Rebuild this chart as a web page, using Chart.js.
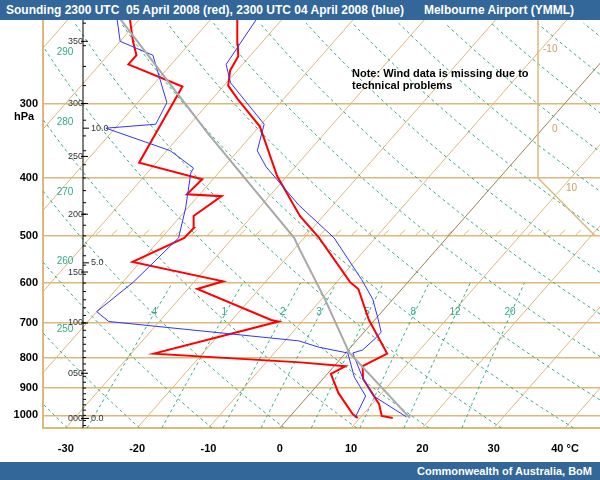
<!DOCTYPE html>
<html>
<head>
<meta charset="utf-8">
<script src="https://cdn.jsdelivr.net/npm/chart.js@4.4.1/dist/chart.umd.min.js"></script>
<style>
  body { margin: 0; width: 600px; height: 480px; background: #fff; font-family: "Liberation Sans", Arial, sans-serif; overflow: hidden; }
  .bar { background: #336699; color: #fff; font-weight: bold; font-size: 12px; height: 20px; line-height: 20px; white-space: pre; position: relative; z-index: 1; }
  #head { padding-left: 6px; }
  #foot { text-align: right; padding-right: 8px; font-size: 11px; height: 18px; line-height: 18px; }
  #wrap { position: relative; width: 600px; height: 442px; }
  #chart { position: absolute; left: 0; top: -12px; }
</style>
</head>
<body>
<div class="bar" id="head">Sounding 2300 UTC  05 April 2008 (red), 2300 UTC 04 April 2008 (blue)      Melbourne Airport (YMML)</div>
<div id="wrap"><canvas id="chart" width="600" height="454"></canvas></div>
<div class="bar" id="foot">Commonwealth of Australia, BoM</div>
<script>
// skew-T layout
const SKEW = 31.9, P_BOT = 1050, P_TOP = 217;
const skewX = (t, p) => t + SKEW * Math.log(P_BOT / p);

// 05 April (red)
const redTempP = [1010, 1002, 958, 868, 827, 788, 692, 614, 598, 504, 463, 397, 377, 328, 295, 280, 264, 250, 239, 216];
const redTempT = [14.6, 12.8, 11.0, 5.6, 4.0, 5.9, -0.8, -6.1, -8.1, -17.9, -23.3, -31.4, -33.7, -39.9, -46.4, -49.4, -51.0, -51.6, -53.1, -56.4];
const redDewP = [1010, 995, 917, 852, 827, 815, 788, 696, 692, 614, 596, 553, 504, 485, 463, 429, 426, 402, 377, 281, 258, 249, 236, 217];
const redDewT = [9.7, 8.5, 3.9, 0.5, 1.6, -5.2, -26.8, -13.3, -14.5, -28.7, -26.0, -41.1, -36.8, -36.7, -38.2, -36.7, -41.8, -41.5, -52.4, -55.7, -66.0, -66.0, -68.2, -71.3];
// 04 April (blue)
const blueTempP = [1006, 928, 868, 786, 777, 739, 725, 690, 639, 592, 504, 444, 383, 360, 325, 277, 258, 217];
const blueTempT = [16.4, 9.2, 5.6, 1.0, 2.0, 2.4, 2.4, 0.4, -2.8, -6.8, -15.8, -24.8, -34.1, -37.3, -39.6, -49.4, -52.3, -53.6];
const blueDewP = [1010, 928, 863, 786, 769, 750, 696, 670, 598, 504, 449, 392, 385, 360, 330, 325, 299, 249, 236, 217];
const blueDewT = [9.3, 8.1, 4.2, 0.3, -4.4, -8.1, -37.1, -40.0, -38.5, -37.6, -40.3, -43.9, -44.1, -49.5, -61.3, -54.8, -55.9, -63.7, -70.0, -73.1];
// parcel path (grey)
const parcelP = [1010, 784, 639, 527, 504, 337, 217];
const parcelT = [17.0, 0.4, -9.5, -19.2, -21.4, -46.3, -72.6];

// background
const isobars = [300, 400, 500, 600, 700, 800, 900, 1000];
const isotherms = [-110, -100, -90, -80, -70, -60, -50, -40, -30, -20, -10, 0, 10, 20, 30, 40];
const xTicks = [-30, -20, -10, 0, 10, 20, 30, 40];
const thetas = [240, 250, 260, 270, 280, 290, 300, 310, 320, 330, 340, 350, 360, 370, 380, 390, 400, 410, 420, 430, 440];
const thetaLabels = [250, 260, 270, 280, 290];
const mixRatios = [0.4, 1, 2, 3, 5, 8, 12, 20];
const heightP = [236, 300, 368, 460, 575, 700, 850, 1012];
const heightLabels = ['350', '300', '250', '200', '150', '100', '050', '000'];
const kmP = [330, 555, 1012];
const kmLabels = ['10.0', '5.0', '0.0'];

const pts = (P, T) => P.map((p, i) => ({ x: skewX(T[i], p), y: p }));
const TAN = '#ddb87a', GREEN = '#33aa88';
const thetaT = (th, p) => th * Math.pow(p / 1000, 0.286) - 273.15;

const background = {
  id: 'background',
  beforeDatasetsDraw(chart) {
    const { ctx, chartArea: a, scales: { x, y } } = chart;
    ctx.save();
    ctx.beginPath(); ctx.rect(a.left, a.top, a.right - a.left, a.bottom - a.top); ctx.clip();
    // isotherms
    ctx.lineWidth = 1;
    isotherms.forEach(t => {
      ctx.strokeStyle = t === 0 ? '#a08050' : TAN;
      ctx.beginPath();
      ctx.moveTo(x.getPixelForValue(skewX(t, P_BOT)), y.getPixelForValue(P_BOT));
      ctx.lineTo(x.getPixelForValue(skewX(t, P_TOP)), y.getPixelForValue(P_TOP));
      ctx.stroke();
    });
    // dry adiabats
    ctx.strokeStyle = GREEN; ctx.setLineDash([3, 3]);
    thetas.forEach(th => {
      ctx.beginPath();
      for (let p = P_BOT; p >= P_TOP - 5; p -= 10) {
        const px = x.getPixelForValue(skewX(thetaT(th, p), p)), py = y.getPixelForValue(p);
        p === P_BOT ? ctx.moveTo(px, py) : ctx.lineTo(px, py);
      }
      ctx.stroke();
    });
    // mixing ratio lines
    ctx.font = '10px "Liberation Sans", Arial';
    ctx.fillStyle = GREEN; ctx.textAlign = 'center';
    mixRatios.forEach(w => {
      const td = p => { const e = w * p / (622 + w), l = Math.log(e / 6.112); return 243.5 * l / (17.67 - l); };
      ctx.beginPath();
      for (let p = P_BOT; p >= 600; p -= 10) {
        const px = x.getPixelForValue(skewX(td(p), p)), py = y.getPixelForValue(p);
        p === P_BOT ? ctx.moveTo(px, py) : ctx.lineTo(px, py);
      }
      ctx.stroke();
      ctx.fillText(w < 1 ? '.4' : String(w), x.getPixelForValue(skewX(td(680), 680)), y.getPixelForValue(680));
    });
    ctx.setLineDash([]);
    // theta labels near the left margin
    const lx = x.getValueForPixel(a.left + 22);
    thetaLabels.forEach(th => {
      let best = P_BOT, err = 1e9;
      for (let p = P_BOT; p >= P_TOP; p -= 1) {
        const d = Math.abs(skewX(thetaT(th + 4, p), p) - lx);
        if (d < err) { err = d; best = p; }
      }
      ctx.fillText(String(th), a.left + 22, y.getPixelForValue(best) + 4);
    });
    ctx.restore();

    // inner right frame
    ctx.save();
    ctx.strokeStyle = TAN; ctx.lineWidth = 1.5;
    const fx = a.right - 62;
    ctx.beginPath();
    ctx.moveTo(fx, a.top); ctx.lineTo(fx, y.getPixelForValue(400));
    ctx.lineTo(a.right - 5, y.getPixelForValue(500));
    ctx.stroke();
    // barb hatching along 500 hPa
    ctx.lineWidth = 1;
    const y5 = y.getPixelForValue(500);
    for (let hx = a.left + 52; hx < a.right - 10; hx += 16) {
      ctx.beginPath(); ctx.moveTo(hx, y5); ctx.lineTo(hx + 6, y5 - 6); ctx.stroke();
    }
    ctx.fillStyle = '#c8a060'; ctx.font = '10px "Liberation Sans", Arial';
    ctx.fillText('-10', fx + 5, a.top + 32);
    ctx.fillText('0', fx + 14, a.top + 112);
    ctx.fillText('10', fx + 28, a.top + 171);
    // height axis
    const hx = a.left + 40;
    ctx.strokeStyle = '#000'; ctx.fillStyle = '#333';
    ctx.beginPath(); ctx.moveTo(hx, a.top); ctx.lineTo(hx, a.bottom); ctx.stroke();
    for (let p = 1040; p > P_TOP; p -= 20) {
      const py = y.getPixelForValue(p);
      ctx.beginPath(); ctx.moveTo(hx, py); ctx.lineTo(hx + 3, py); ctx.stroke();
    }
    ctx.font = '9px "Liberation Sans", Arial'; ctx.textAlign = 'right'; ctx.textBaseline = 'middle';
    heightP.forEach((p, i) => {
      const py = y.getPixelForValue(p);
      ctx.fillText(heightLabels[i], hx, py);
      ctx.beginPath(); ctx.moveTo(hx - 2, py); ctx.lineTo(hx + 5, py); ctx.stroke();
    });
    ctx.textAlign = 'left';
    kmP.forEach((p, i) => {
      const py = y.getPixelForValue(p);
      ctx.beginPath(); ctx.moveTo(hx, py); ctx.lineTo(hx + 6, py); ctx.stroke();
      ctx.fillText(kmLabels[i], hx + 8, py);
    });
    // labels
    ctx.fillStyle = '#000'; ctx.font = 'bold 11px "Liberation Sans", Arial'; ctx.textAlign = 'center'; ctx.textBaseline = 'alphabetic';
    ctx.fillText('hPa', a.left - 19, y.getPixelForValue(300) + 17);
    ctx.textAlign = 'left';
    ctx.fillText('Note: Wind data is missing due to', 352, a.top + 57);
    ctx.fillText('technical problems', 352, a.top + 69);
    ctx.restore();
  }
};

const line = (label, data, color, width) => ({
  label, data, borderColor: color, borderWidth: width, pointRadius: 0, tension: 0, fill: false
});

new Chart(document.getElementById('chart'), {
  type: 'line',
  data: {
    datasets: [
      line('Parcel', pts(parcelP, parcelT), '#a8a8a8', 2),
      line('Temp 04 Apr', pts(blueTempP, blueTempT), '#3333ff', 1),
      line('Dew 04 Apr', pts(blueDewP, blueDewT), '#3333ff', 1),
      line('Temp 05 Apr', pts(redTempP, redTempT), '#ff0000', 2),
      line('Dew 05 Apr', pts(redDewP, redDewT), '#ff0000', 2)
    ]
  },
  options: {
    responsive: false,
    animation: false,
    parsing: false,
    layout: { padding: 0 },
    plugins: { legend: { display: false }, tooltip: { enabled: false } },
    scales: {
      x: {
        type: 'linear', min: -33.2, max: 44.9,
        afterBuildTicks: s => { s.ticks = xTicks.map(v => ({ value: v })); },
        afterFit: s => { s.height = 34; },
        grid: { display: false },
        border: { color: TAN, width: 2 },
        ticks: { color: '#000', font: { family: '"Liberation Sans", Arial', size: 11, weight: 'bold' }, padding: 6,
          callback: v => v === 40 ? '40 °C' : v }
      },
      y: {
        type: 'logarithmic', reverse: true, min: P_TOP, max: P_BOT,
        afterBuildTicks: s => { s.ticks = isobars.map(v => ({ value: v })); },
        afterFit: s => { s.width = 43; },
        grid: { color: TAN, lineWidth: 1.5, drawTicks: false },
        border: { color: TAN, width: 2 },
        ticks: { color: '#000', font: { family: '"Liberation Sans", Arial', size: 11, weight: 'bold' }, padding: 5,
          callback: v => String(v) }
      }
    }
  },
  plugins: [background]
});
</script>
</body>
</html>
